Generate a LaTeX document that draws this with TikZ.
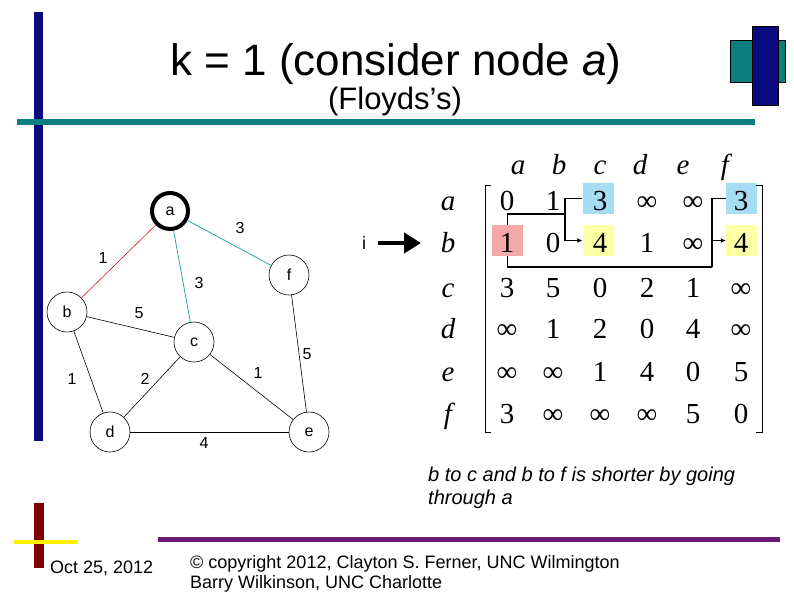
\documentclass[tikz,border=0pt]{standalone}
\usepackage{fontspec}
\setmainfont{Liberation Sans}
\newfontfamily\tnr{Liberation Serif}
\usetikzlibrary{arrows.meta}
\definecolor{navy}{HTML}{0A0A80}
\definecolor{tealc}{HTML}{0C8080}
\definecolor{maroonc}{HTML}{800000}
\definecolor{purplec}{HTML}{6B1A76}
\definecolor{edgered}{HTML}{C02020}
\definecolor{edgecyan}{HTML}{30A0B8}
\definecolor{hblue}{HTML}{A6DDF2}
\definecolor{hyellow}{HTML}{FFFFA6}
\definecolor{hred}{HTML}{F4A8A8}
\tikzset{
  vtx/.style={circle, draw, line width=0.6pt, minimum size=40pt, inner sep=0pt, font=\fontsize{16}{18}\selectfont},
  elab/.style={inner sep=0pt, font=\fontsize{16}{18}\selectfont},
  ent/.style={anchor=base, inner sep=0pt, font=\tnr\fontsize{29}{32}\selectfont},
  hdr/.style={anchor=base, inner sep=0pt, font=\tnr\itshape\fontsize{29}{32}\selectfont},
  hbox/.style={rectangle, minimum width=31pt, minimum height=31pt, inner sep=0pt},
  link/.style={line width=1.6pt},
}
\begin{document}
\begin{tikzpicture}[x=1pt,y=-1pt]
\useasboundingbox (0,0) rectangle (794,595);
% decorations
\fill[navy] (34,12) rectangle (43,441);
\fill[tealc] (17,119) rectangle (755,125);
\draw[fill=tealc, line width=0.5pt] (730,40) rectangle (785,82);
\draw[fill=navy, line width=0.5pt] (752,26) rectangle (778,105);
\fill[maroonc] (34,503) rectangle (44,568);
\fill[yellow] (14,540) rectangle (78,544);
\fill[purplec] (158,537) rectangle (780,542);
% title
\node[anchor=base, inner sep=0pt, font=\fontsize{44}{48}\selectfont] (title) at (396,75) {k = 1 (consider node \textit{a})};
\node[anchor=base, inner sep=0pt, font=\fontsize{31}{34}\selectfont] (sub) at (395,109) {(Floyds’s)};
% graph
\node[vtx, line width=4pt, minimum size=36pt] (a) at (170,211) {a};
\node[vtx] (b) at (67,312) {b};
\node[vtx] (c) at (194,342) {c};
\node[vtx] (f) at (289,275) {f};
\node[vtx] (d) at (110,432) {d};
\node[vtx] (e) at (309,432) {e};
\draw[edgered, line width=0.6pt] (a) -- (b);
\draw[edgecyan, line width=0.8pt] (a) -- (c);
\draw[edgecyan, line width=0.8pt] (a) -- (f);
\draw[line width=0.6pt] (b) -- (c);
\draw[line width=0.6pt] (b) -- (d);
\draw[line width=0.6pt] (c) -- (d);
\draw[line width=0.6pt] (c) -- (e);
\draw[line width=0.6pt] (d) -- (e);
\draw[line width=0.6pt] (f) -- (e);
\node[elab] (lab) at (103,258) {1};
\node[elab] (laf) at (240,228) {3};
\node[elab] (lac) at (199,283) {3};
\node[elab] (lbc) at (139,313) {5};
\node[elab] (lbd) at (72,379) {1};
\node[elab] (lcd) at (145,379) {2};
\node[elab] (lce) at (258,373) {1};
\node[elab] (lfe) at (307,354) {5};
\node[elab] (lde) at (204,443) {4};
% i arrow
\node[inner sep=0pt, font=\fontsize{18}{20}\selectfont] (i) at (364,243) {i};
\coordinate (ia) at (378,243);
\coordinate (ib) at (421,243);
\draw[line width=4.5pt, -{Triangle[length=17pt,width=20pt]}] (ia) -- (ib);
% matrix highlight boxes
\node[hbox, fill=hblue] (hac) at (598,198.5) {};
\node[hbox, fill=hblue] (haf) at (741.5,198.5) {};
\node[hbox, fill=hyellow] (hbc) at (598,240.5) {};
\node[hbox, fill=hyellow] (hbf) at (741.5,240.5) {};
\node[hbox, fill=hred] (hba) at (507.5,240.5) {};
% headers
\foreach \l/\x in {a/518,b/559,c/600,d/640,e/683,f/725}
  \node[hdr] (col-\l) at (\x,174) {\l};
\foreach \l/\y in {a/210,b/252,c/297,d/338,e/381,f/423}
  \node[hdr] (row-\l) at (448,\y) {\l};
% entries
\foreach \r/\y/\va/\vb/\vc/\vd/\ve/\vf in {
  a/210/0/1/3/∞/∞/3,
  b/252/1/0/4/1/∞/4,
  c/297/3/5/0/2/1/∞,
  d/338/∞/1/2/0/4/∞,
  e/381/∞/∞/1/4/0/5,
  f/423/3/∞/∞/∞/5/0}{
  \node[ent] (m-\r-a) at (507,\y) {\va};
  \node[ent] (m-\r-b) at (553,\y) {\vb};
  \node[ent] (m-\r-c) at (600,\y) {\vc};
  \node[ent] (m-\r-d) at (647,\y) {\vd};
  \node[ent] (m-\r-e) at (693,\y) {\ve};
  \node[ent] (m-\r-f) at (741,\y) {\vf};
}
% brackets
\draw[line width=1pt] (491,185) -- (485,185) -- (485,432) -- (491,432);
\draw[line width=1pt] (756,185) -- (762,185) -- (762,432) -- (756,432);
% connectors
\coordinate (j1) at (565,214);
\coordinate (j2) at (712,267);
\draw[link] (hba.north) |- (j1);
\draw[link, -{Latex[length=5pt,width=5pt]}] (hac.west) -| (j1) |- (hbc.west);
\draw[link] (hba.south) |- (j2);
\draw[link, -{Latex[length=5pt,width=5pt]}] (haf.west) -| (j2) |- (hbf.west);
% bottom text
\node[anchor=base west, inner sep=0pt, align=left, font=\itshape\fontsize{20}{22.5}\selectfont] (note) at (428,504) {b to c and b to f is shorter by going\\through a};
\node[anchor=base west, inner sep=0pt, font=\fontsize{18}{20}\selectfont] (date) at (50,573) {Oct 25, 2012};
\node[anchor=base west, inner sep=0pt, align=left, font=\fontsize{18}{19.5}\selectfont] (copy) at (190,588) {© copyright 2012, Clayton S. Ferner, UNC Wilmington\\Barry Wilkinson, UNC Charlotte};
\end{tikzpicture}
\end{document}
